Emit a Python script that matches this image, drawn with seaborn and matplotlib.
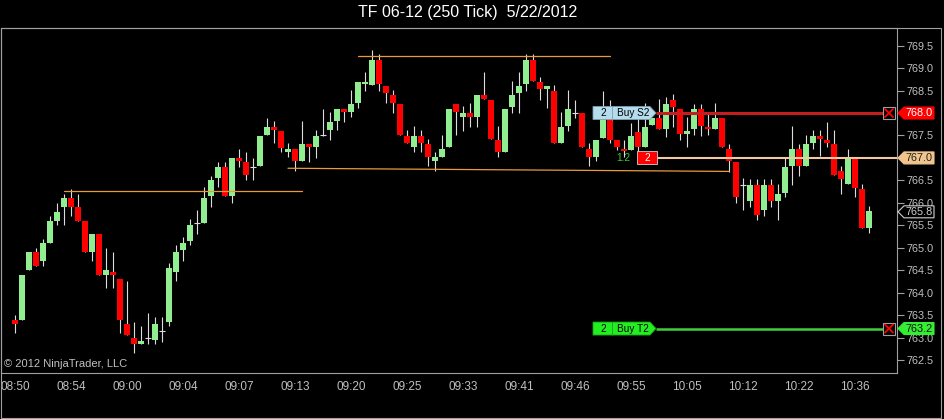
import matplotlib
matplotlib.use("Agg")
import numpy as np
import pandas as pd
import matplotlib.pyplot as plt
import matplotlib.transforms as mtransforms
from matplotlib.patches import Polygon, Rectangle
from matplotlib.lines import Line2D
import seaborn as sns

# ---- data (250 tick bars) ----
opens = [
    763.4, 763.4, 764.5, 764.9, 764.7, 765.1, 765.6, 765.9, 766.1, 765.9,
    765.6, 764.9, 765.3, 764.4, 764.45, 764.3, 763.3, 763.0, 762.85, 763.0,
    762.95, 763.15, 763.35, 764.45, 764.95, 765.15, 765.55, 765.55, 766.15, 766.55,
    766.8, 766.15, 767.0, 766.92, 766.8, 766.82, 767.5, 767.68, 767.6, 767.14,
    767.2, 766.94, 767.31, 767.24, 767.5, 767.63, 767.83, 768.09, 768.03, 768.23,
    768.64, 768.62, 769.18, 768.61, 768.4, 768.2, 767.49, 767.24, 767.49, 767.31,
    766.94, 767.03, 767.24, 768.2, 767.92, 768.01, 767.92, 768.4, 768.29, 767.4,
    767.14, 768.13, 768.44, 768.64, 769.18, 768.69, 768.53, 768.5, 767.34, 767.71,
    768.0, 767.99, 767.2, 767.03, 767.44, 767.86, 767.4, 767.19, 767.18, 767.58,
    767.24, 767.74, 767.88, 767.64, 768.29, 768.08, 767.53, 767.64, 768.08, 767.68,
    767.64, 767.88, 767.19, 766.92, 766.4, 766.03, 766.4, 765.84, 766.4, 766.03,
    766.23, 766.82, 767.19, 766.82, 767.34, 767.49, 767.4, 767.31, 766.72, 766.42,
    766.99, 766.3, 765.45]
highs = [
    763.5, 764.4, 764.9, 765.0, 765.2, 765.7, 766.0, 766.2, 766.3, 766.2,
    765.6, 765.3, 765.3, 765.0, 764.9, 764.3, 764.25, 763.35, 763.25, 763.55,
    763.45, 763.45, 764.65, 765.05, 765.25, 765.65, 765.85, 766.35, 766.6, 766.9,
    766.9, 767.0, 767.2, 767.13, 767.0, 767.48, 767.9, 767.83, 767.6, 767.33,
    767.2, 767.83, 767.31, 767.63, 768.1, 768.03, 768.09, 768.09, 768.52, 768.69,
    768.92, 769.41, 769.32, 768.61, 768.52, 768.2, 767.63, 767.71, 767.63, 767.43,
    767.13, 767.51, 768.09, 768.2, 768.15, 768.23, 768.4, 768.92, 768.29, 767.71,
    768.09, 768.72, 768.92, 769.32, 769.32, 768.81, 768.61, 768.62, 768.03, 768.52,
    768.29, 767.99, 767.34, 767.4, 768.5, 768.3, 767.4, 767.4, 767.77, 768.07,
    768.22, 767.9, 768.31, 768.36, 768.42, 768.08, 767.92, 768.2, 768.2, 768.02,
    768.22, 767.88, 767.32, 766.92, 766.55, 766.52, 766.52, 766.52, 766.52, 766.42,
    766.99, 767.71, 767.32, 767.51, 767.62, 767.62, 767.81, 767.62, 766.82, 767.21,
    766.99, 766.42, 765.93]
lows = [
    763.1, 763.4, 764.5, 764.6, 764.6, 765.1, 765.5, 765.5, 765.7, 765.6,
    764.9, 764.7, 764.4, 764.1, 764.1, 763.1, 763.05, 762.65, 762.85, 762.85,
    762.85, 762.9, 763.25, 764.25, 764.7, 765.05, 765.3, 765.55, 765.9, 766.35,
    766.15, 766.0, 766.8, 766.5, 766.5, 766.82, 767.5, 767.33, 767.13, 767.02,
    766.72, 766.94, 766.92, 767.0, 767.49, 767.4, 767.63, 767.81, 767.91, 768.11,
    768.5, 768.62, 768.5, 768.22, 768.01, 767.51, 767.34, 767.13, 767.13, 766.82,
    766.72, 767.03, 767.24, 767.51, 767.61, 767.7, 767.7, 768.32, 767.43, 767.02,
    767.14, 768.01, 768.01, 768.5, 768.72, 768.29, 768.11, 767.34, 767.34, 767.61,
    767.88, 767.24, 766.82, 766.94, 767.44, 767.33, 767.18, 767.03, 767.18, 767.1,
    767.24, 767.74, 767.64, 767.47, 767.7, 767.4, 767.24, 767.51, 767.49, 767.51,
    767.64, 767.24, 766.69, 766.0, 765.83, 765.91, 765.62, 765.71, 765.91, 765.62,
    766.12, 766.4, 766.6, 766.82, 767.21, 767.04, 767.24, 766.62, 766.2, 766.42,
    766.12, 765.45, 765.32]
closes = [
    763.3, 764.4, 764.9, 764.6, 765.1, 765.6, 765.8, 766.1, 765.9, 765.6,
    764.9, 765.3, 764.4, 764.5, 764.4, 763.4, 763.05, 762.85, 762.92, 763.0,
    763.3, 763.15, 764.55, 764.9, 765.1, 765.5, 765.55, 766.1, 766.5, 766.8,
    766.15, 767.0, 766.93, 766.62, 766.8, 767.48, 767.68, 767.62, 767.23, 767.2,
    766.94, 767.31, 767.24, 767.49, 767.5, 767.81, 768.09, 768.03, 768.2, 768.69,
    768.69, 769.18, 768.64, 768.44, 768.23, 767.51, 767.34, 767.49, 767.34, 767.03,
    767.01, 767.2, 768.09, 768.03, 768.01, 767.92, 768.4, 768.32, 767.43, 767.14,
    768.09, 768.4, 768.61, 769.18, 768.72, 768.53, 768.61, 767.34, 767.68, 768.09,
    768.0, 767.24, 767.03, 767.4, 767.88, 767.41, 767.24, 767.15, 767.49, 767.24,
    767.7, 767.88, 767.64, 768.2, 768.13, 767.53, 767.61, 768.08, 767.71, 767.64,
    767.88, 767.24, 766.94, 766.14, 766.4, 766.4, 765.73, 766.4, 766.03, 766.2,
    766.79, 767.19, 766.82, 767.31, 767.49, 767.43, 767.34, 766.62, 766.52, 766.99,
    766.32, 765.45, 765.82]

time_labels = ["08:50", "08:54", "09:00", "09:04", "09:07", "09:13", "09:20", "09:25",
               "09:33", "09:41", "09:46", "09:55", "10:05", "10:12", "10:22", "10:36"]
price_ticks = [762.5, 763.0, 763.5, 764.0, 764.5, 765.0, 765.5, 766.0,
               766.5, 767.0, 767.5, 768.0, 768.5, 769.0, 769.5]

# drawn trend lines: (bar, price) -> (bar, price)
trend_lines = [((7, 766.27), (41, 766.27)),
               ((49, 769.27), (85, 769.27)),
               ((39, 766.77), (102, 766.70))]

stop_price = 768.0
entry_price = 767.0
target_price = 763.2
last_price = 765.8

df = pd.DataFrame({"open": opens, "high": highs, "low": lows, "close": closes})
df["bar"] = np.arange(len(df))

# ---- style ----
sns.set_theme(style="dark", rc={
    "figure.facecolor": "black", "axes.facecolor": "black",
    "axes.edgecolor": "#a0a0a0", "axes.grid": False,
    "text.color": "#c8c8c8", "xtick.color": "#a0a0a0", "ytick.color": "#a0a0a0",
})
plt.rcParams["font.family"] = ["Liberation Sans", "DejaVu Sans"]
narrow = ["Liberation Sans Narrow", "Liberation Sans", "DejaVu Sans"]

W, H = 944, 419
fig = plt.figure(figsize=(W / 100, H / 100), dpi=100)
ax = fig.add_axes([1 / W, 46 / H, 896 / W, 345 / H])
ax.set_xlim(-2, 126)
ax.set_ylim(762.21, 769.894)

# candles
up = df[df.close > df.open]
dn = df[df.close < df.open]
dj = df[df.close == df.open]
ax.vlines(df.bar, df.low, df.high, color="#dcdcdc", lw=0.8, zorder=2)
ax.bar(up.bar, up.close - up.open, bottom=up.open, width=0.72,
       color="#90ee90", linewidth=0, zorder=3)
ax.bar(dn.bar, dn.open - dn.close, bottom=dn.close, width=0.72,
       color="#ff0000", linewidth=0, zorder=3)
ax.hlines(dj.open, dj.bar - 0.36, dj.bar + 0.36, color="#dcdcdc", lw=0.8, zorder=3)

for (x0, y0), (x1, y1) in trend_lines:
    ax.plot([x0, x1], [y0, y1], color="#e89a3c", lw=0.9, zorder=4)

# axes / ticks
for s in ax.spines.values():
    s.set_color("#a0a0a0")
    s.set_linewidth(0.8)
ax.yaxis.tick_right()
ax.set_yticks(price_ticks)
ax.set_yticklabels([f"{p:.1f}" for p in price_ticks])
ax.tick_params(axis="y", direction="out", length=5, width=0.8, pad=1.5,
               labelsize=7.8, labelcolor="#c0c0c0")
ax.set_xticks(df.bar[::8])
ax.set_xticklabels(time_labels, family=narrow)
ax.tick_params(axis="x", direction="out", length=4, width=0.8, pad=2,
               labelsize=8.5, labelcolor="#c0c0c0")
ax.set_xlabel("")
ax.set_ylabel("")

fig.text(468 / W, 1 - 13 / H, "TF 06-12 (250 Tick)  5/22/2012", ha="center", va="center",
         color="white", fontsize=11.5, family=narrow)
ax.text(0.003, 0.012, "\u00a9 2012 NinjaTrader, LLC", transform=ax.transAxes,
        fontsize=8, color="#c0c0c0", ha="left", va="bottom")

# outer frame
px = mtransforms.IdentityTransform()
fig.add_artist(Rectangle((0.5, 1.5), 940.5, 389.5, transform=px, fill=False,
                         ec="#a0a0a0", lw=0.8))


def price_y(p):
    return ax.transData.transform((0, p))[1]


# order lines
ax.hlines(stop_price, 91.5, 124, color="#c41e1e", lw=2.2, zorder=5)
ax.hlines(entry_price, 91.7, 126, color="#f2c9a0", lw=1.5, zorder=5)
ax.hlines(target_price, 91.5, 124, color="#3cd03c", lw=1.8, zorder=5)


def order_tag(price, face, edge, left_text, right_text):
    yc = price_y(price)
    pts = [(593, yc - 6.5), (650, yc - 6.5), (656, yc), (650, yc + 6.5), (593, yc + 6.5)]
    ax.add_patch(Polygon(pts, closed=True, transform=px, fc=face, ec=edge, lw=0.6, zorder=6))
    ax.add_line(Line2D([612, 612], [yc - 6.5, yc + 6.5], transform=px, color=edge, lw=0.6, zorder=7))
    ax.text(603, yc, left_text, transform=px, ha="center", va="center", fontsize=7.2,
            color="black", zorder=7)
    ax.text(633, yc, right_text, transform=px, ha="center", va="center", fontsize=7.2,
            color="black", zorder=7)


order_tag(stop_price, "#b4dcec", "#7f9faf", "2", "Buy S2")
order_tag(target_price, "#22ee22", "#1aa01a", "2", "Buy T2")

yc = price_y(entry_price)
ax.add_patch(Rectangle((637, yc - 6.5), 20, 13, transform=px, fc="#ff0000", ec="#d0d0d0",
                       lw=0.6, zorder=6))
ax.text(647, yc, "2", transform=px, ha="center", va="center", fontsize=7.2,
        color="white", zorder=7)
ax.text(623, yc - 0.5, "1.2", transform=px, ha="center", va="center", fontsize=7.4,
        color="#32cd32", zorder=7)

# close-order boxes
for p in [stop_price, target_price]:
    yc = price_y(p)
    ax.add_patch(Rectangle((883, yc - 6), 12, 12, transform=px, fc="black", ec="#a0a0a0",
                           lw=0.8, zorder=8, clip_on=False))
    ax.add_line(Line2D([885, 893], [yc - 4, yc + 4], transform=px, color="#ff0000", lw=1.3,
                       zorder=9, clip_on=False))
    ax.add_line(Line2D([885, 893], [yc + 4, yc - 4], transform=px, color="#ff0000", lw=1.3,
                       zorder=9, clip_on=False))

# price flags on the right axis
flags = [(stop_price, "#ff0000", "#ff0000", "white"),
         (entry_price, "#f2c48d", "#f2c48d", "#202020"),
         (last_price, "black", "#d0d0d0", "#d0d0d0"),
         (target_price, "#33ee33", "#33ee33", "#101010")]
for p, face, edge, tc in flags:
    yc = price_y(p)
    pts = [(898, yc), (904, yc + 6), (934, yc + 6), (934, yc - 6), (904, yc - 6)]
    fig.add_artist(Polygon(pts, closed=True, transform=px, fc=face, ec=edge, lw=0.8))
    fig.text(919 / W, yc / H, f"{p:.1f}", ha="center", va="center", fontsize=7.8, color=tc)

fig.savefig("out.png", dpi=100, facecolor="black")
